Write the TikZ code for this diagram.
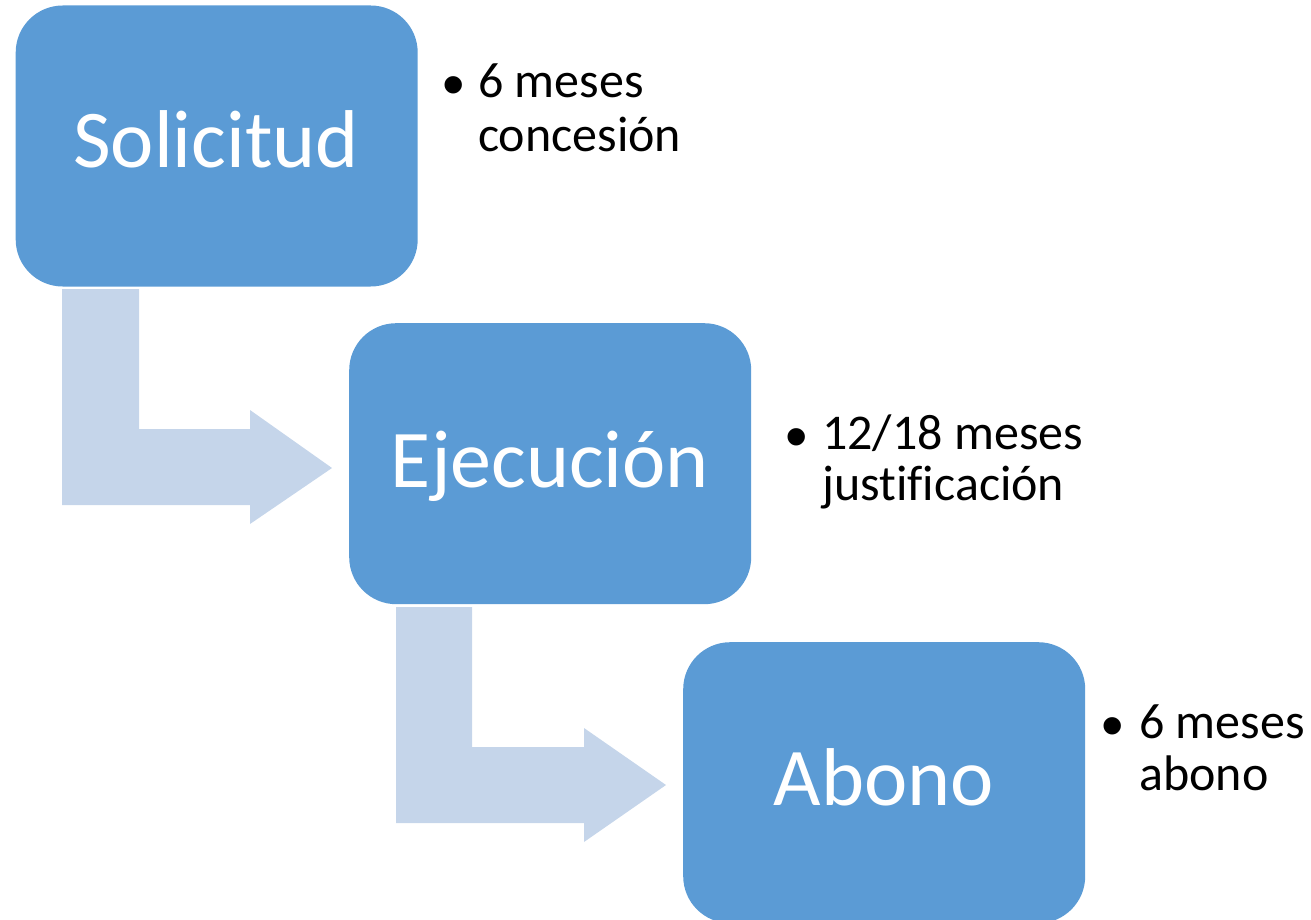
\documentclass[tikz,border=0pt]{standalone}
\usepackage{fontspec}
\setmainfont{Carlito}[Ligatures=NoCommon]
\newfontfamily\bulletfont{Liberation Sans}
\definecolor{boxblue}{HTML}{5B9BD5}
\definecolor{arrowblue}{HTML}{C5D5EA}
\begin{document}
\begin{tikzpicture}[x=1pt,y=-1pt,
  stage/.style={fill=boxblue, draw=none, rounded corners=47pt, minimum width=402pt, minimum height=281pt, inner sep=0pt, anchor=north west},
  stagetext/.style={text=white, font=\fontsize{82}{98}\selectfont, anchor=base, inner sep=0pt},
  note/.style={font=\fontsize{50}{53}\selectfont, anchor=base west, align=left, inner sep=0pt},
  dot/.style={font=\bulletfont\fontsize{64}{70}\selectfont, anchor=base, inner sep=0pt},
  bendarrow/.style={fill=arrowblue, draw=none}]
\useasboundingbox (0,0) rectangle (1311,920);
% bent arrows
\fill[bendarrow] (62,289) -- (139,289) -- (139,429) -- (250,429) -- (250,410) -- (332,468) -- (250,524) -- (250,505) -- (62,505) -- cycle;
\fill[bendarrow] (396,607) -- (472,607) -- (472,747) -- (584,747) -- (584,728) -- (666,785) -- (584,842) -- (584,823) -- (396,823) -- cycle;
% stages
\node[stage] (s1) at (15.5,5.3) {};
\node[stage] (s2) at (349,323) {};
\node[stage] (s3) at (683,642) {};
\node[stagetext] (t1) at (216,168) {Solicitud};
\node[stagetext] (t2) at (550,487) {Ejecución};
\node[stagetext] (t3) at (884,805) {Abono};
% notes (base anchor = baseline of last line)
\node[dot] (d1) at (454,107) {•};
\node[note] (n1) at (478,152) {6 meses\\[1pt]concesión};
\node[dot] (d2) at (797,458) {•};
\node[note] (n2) at (822,500) {12/18 meses\\[-2pt]justificación};
\node[dot] (d3) at (1113,747) {•};
\node[note] (n3) at (1139,790) {6 meses\\[-1pt]abono};
\end{tikzpicture}
\end{document}
